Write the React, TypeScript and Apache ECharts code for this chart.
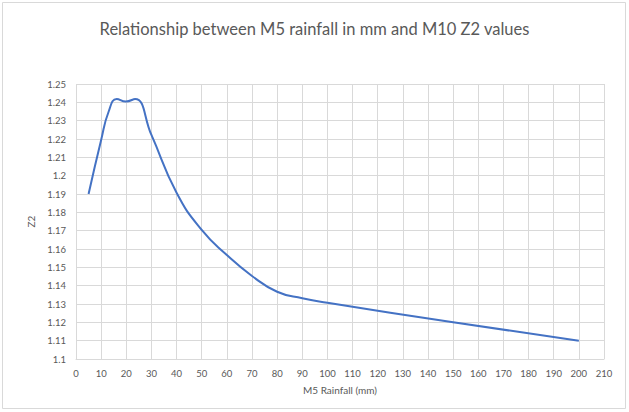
import React, { useEffect, useRef } from "react";
import * as echarts from "echarts";

const rainfall = [5, 10, 13, 16.2, 19.8, 23.5, 30, 40, 50, 60, 70, 80, 90, 100, 150, 200];
const z2Values = [1.19, 1.2195, 1.235, 1.2418, 1.2404, 1.2418, 1.2222, 1.1907, 1.1704, 1.1567, 1.1453, 1.1367, 1.1331, 1.1307, 1.12, 1.11];

const titleText = "Relationship between M5 rainfall in mm and M10 Z2 values";
const xAxisName = "M5 Rainfall (mm)";
const yAxisName = "Z2";

export default function App() {
  const ref = useRef<HTMLDivElement>(null);
  useEffect(() => {
    document.body.style.margin = "0";
    if (!ref.current) return;
    const chart = echarts.init(ref.current, null, { renderer: "svg" });
    const font = "Lato, 'Open Sans', sans-serif";
    chart.setOption({
      animation: false,
      backgroundColor: "#ffffff",
      textStyle: { fontFamily: font },
      title: {
        text: titleText,
        left: "center",
        top: 15,
        textStyle: { fontFamily: font, fontSize: 16.5, fontWeight: "normal", color: "#595959" },
      },
      graphic: [
        {
          type: "rect",
          shape: { x: 2.5, y: 2.5, width: 623, height: 406 },
          style: { fill: "none", stroke: "#d9d9d9", lineWidth: 1 },
          silent: true,
        },
      ],
      grid: { left: 76, right: 25, top: 84, bottom: 53, containLabel: false },
      xAxis: {
        type: "value",
        min: 0,
        max: 210,
        interval: 10,
        name: xAxisName,
        nameLocation: "middle",
        nameGap: 26,
        nameTextStyle: { fontSize: 10, color: "#595959", fontFamily: font },
        axisLine: { show: true, lineStyle: { color: "#d9d9d9" } },
        axisTick: { show: false },
        axisLabel: { fontSize: 9.5, color: "#595959", margin: 9, fontFamily: font },
        splitLine: { show: true, lineStyle: { color: "#d9d9d9", width: 1 } },
      },
      yAxis: {
        type: "value",
        min: 1.1,
        max: 1.25,
        interval: 0.01,
        name: yAxisName,
        nameLocation: "middle",
        nameGap: 40,
        nameRotate: 90,
        nameTextStyle: { fontSize: 10, color: "#595959", fontFamily: font },
        axisLine: { show: false },
        axisTick: { show: false },
        axisLabel: {
          fontSize: 9.5,
          color: "#595959",
          margin: 10,
          fontFamily: font,
          formatter: (v: number) => String(parseFloat(v.toFixed(2))),
        },
        splitLine: { show: true, lineStyle: { color: "#d9d9d9", width: 1 } },
      },
      series: [
        {
          type: "line",
          data: rainfall.map((x, i) => [x, z2Values[i]]),
          smooth: 0.5,
          showSymbol: false,
          lineStyle: { color: "#4472c4", width: 2 },
        },
      ],
    });
    return () => chart.dispose();
  }, []);
  return <div ref={ref} style={{ width: 629, height: 412 }} />;
}
